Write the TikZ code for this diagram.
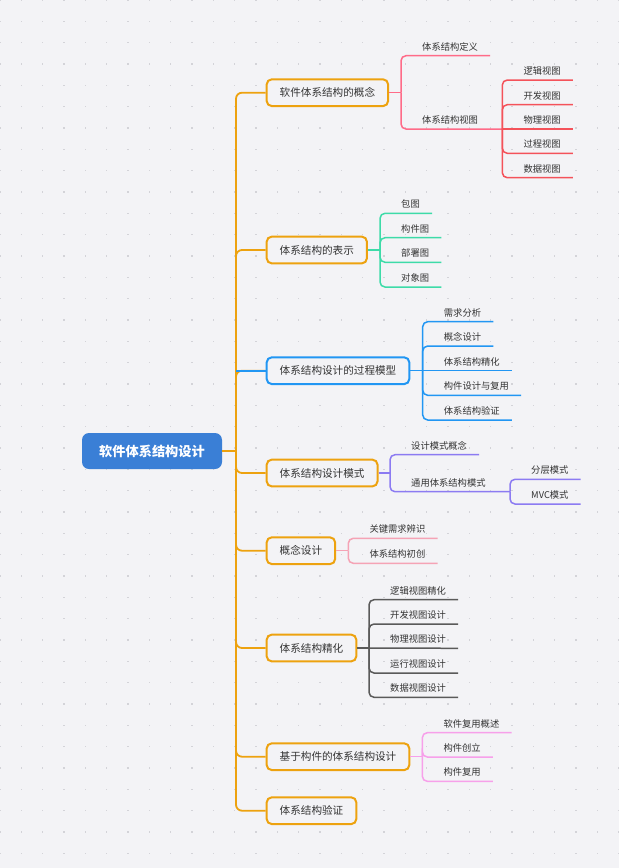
\documentclass[tikz,border=0pt]{standalone}
\usepackage{fontspec}
\setmainfont{Noto Sans CJK SC}
\usetikzlibrary{positioning}

\definecolor{bgc}{HTML}{F3F3F6}
\definecolor{dotc}{HTML}{D3D3D8}
\definecolor{textc}{HTML}{333333}
\definecolor{orangec}{HTML}{EDA20F}
\definecolor{rootc}{HTML}{3A7FD6}
\definecolor{pinkc}{HTML}{FF6B88}
\definecolor{redc}{HTML}{F4525A}
\definecolor{greenc}{HTML}{3DDBA8}
\definecolor{bluec}{HTML}{2196F3}
\definecolor{purplec}{HTML}{8C7BF2}
\definecolor{rosec}{HTML}{F5A3B5}
\definecolor{grayc}{HTML}{5A5A5A}
\definecolor{magentac}{HTML}{F7A0EA}

\tikzset{
  rootbox/.style={fill=rootc, rounded corners=7pt, text=white, minimum width=140pt,
    minimum height=36pt, font=\fontsize{13.2}{15}\selectfont\bfseries},
  topic/.style={draw=orangec, line width=2pt, rounded corners=5pt, fill=bgc,
    inner xsep=13pt, minimum height=26.7pt, anchor=west, text=textc,
    font=\fontsize{10.6}{12}\selectfont},
  leaf/.style={inner xsep=12pt, inner ysep=4.5pt, anchor=south west, text=textc,
    font=\fontsize{9.3}{11}\selectfont},
  trunk/.style={draw=orangec, line width=1.8pt, rounded corners=6pt},
  twig/.style={line width=1.5pt, rounded corners=5pt},
}

\begin{document}
\begin{tikzpicture}[x=1pt,y=-1pt]
\fill[bgc] (0,0) rectangle (619,868);
\useasboundingbox (0,0) rectangle (619,868);
% dotted paper
\foreach \i in {0,...,29}
  \foreach \j in {0,...,40}
    \fill[dotc] (\i*21.33-0.65,\j*21.33-0.65) rectangle ++(1.3,1.3);

% root and main topics
\node[rootbox] (root) at (152,451) {软件体系结构设计};
\coordinate (hub) at (236,451);

\node[topic] (t1) at (265.7,92.7) {软件体系结构的概念};
\node[topic] (t2) at (265.7,250) {体系结构的表示};
\node[topic, draw=bluec] (t3) at (265.7,370.7) {体系结构设计的过程模型};
\node[topic] (t4) at (265.7,473) {体系结构设计模式};
\node[topic] (t5) at (265.7,550.7) {概念设计};
\node[topic] (t6) at (265.7,648) {体系结构精化};
\node[topic] (t7) at (265.7,756.7) {基于构件的体系结构设计};
\node[topic] (t8) at (265.7,810.7) {体系结构验证};

\draw[trunk] (root) -- (hub);
\foreach \t in {t1,t2,t4,t5,t6,t7,t8}
  \draw[trunk] (hub) |- (\t);
\draw[trunk] (hub) |- (t3.west);
\draw[line width=1.8pt, bluec] (t3.west) -- ++(-29.7,0);

% 1: concept
\coordinate (b1) at (401,92.7);
\node[leaf] (a11) at (410,55.7) {体系结构定义};
\node[leaf] (a12) at (410,129) {体系结构视图};
\coordinate (v1) at (502.3,129);
\node[leaf] (a13) at (511.3,80) {逻辑视图};
\node[leaf] (a14) at (511.3,104.7) {开发视图};
\node[leaf] (a15) at (511.3,129) {物理视图};
\node[leaf] (a16) at (511.3,153.3) {过程视图};
\node[leaf] (a17) at (511.3,177.7) {数据视图};
\draw[twig, pinkc] (t1) -- (b1);
\draw[twig, pinkc] (b1) |- (a11.south east);
\draw[twig, pinkc] (b1) |- (v1);
\foreach \n in {a13,a14,a16,a17}
  \draw[twig, redc] (v1) |- (\n.south east);
\draw[twig, redc] (v1) -- (a15.south east);

% 2: representation
\coordinate (b2) at (380,250);
\node[leaf] (a21) at (389,213.3) {包图};
\node[leaf] (a22) at (389,237.7) {构件图};
\node[leaf] (a23) at (389,262.3) {部署图};
\node[leaf] (a24) at (389,287) {对象图};
\draw[twig, greenc] (t2) -- (b2);
\foreach \n in {a21,a22,a23,a24}
  \draw[twig, greenc] (b2) |- (\n.south east);

% 3: process model
\coordinate (b3) at (422.7,370.7);
\node[leaf] (a31) at (431.7,321.7) {需求分析};
\node[leaf] (a32) at (431.7,346) {概念设计};
\node[leaf] (a33) at (431.7,370.7) {体系结构精化};
\node[leaf] (a34) at (431.7,395.3) {构件设计与复用};
\node[leaf] (a35) at (431.7,420) {体系结构验证};
\draw[twig, bluec] (t3) -- (b3);
\foreach \n in {a31,a32,a34,a35}
  \draw[twig, bluec] (b3) |- (\n.south east);
\draw[twig, bluec] (b3) -- (a33.south east);

% 4: design patterns
\coordinate (b4) at (390,473);
\node[leaf] (a41) at (399,454.7) {设计模式概念};
\node[leaf] (a42) at (399,491.7) {通用体系结构模式};
\coordinate (v4) at (510,491.7);
\node[leaf] (a43) at (519,479.3) {分层模式};
\node[leaf] (a44) at (519,504) {MVC模式};
\draw[twig, purplec] (t4) -- (b4);
\draw[twig, purplec] (b4) |- (a41.south east);
\draw[twig, purplec] (b4) |- (v4);
\foreach \n in {a43,a44}
  \draw[twig, purplec] (v4) |- (\n.south east);

% 5: conceptual design
\coordinate (b5) at (348.3,550.7);
\node[leaf] (a51) at (357.3,538.3) {关键需求辨识};
\node[leaf] (a52) at (357.3,563.3) {体系结构初创};
\draw[twig, rosec] (t5) -- (b5);
\foreach \n in {a51,a52}
  \draw[twig, rosec] (b5) |- (\n.south east);

% 6: refinement
\coordinate (b6) at (369,648);
\node[leaf] (a61) at (378,599.7) {逻辑视图精化};
\node[leaf] (a62) at (378,624) {开发视图设计};
\node[leaf] (a63) at (378,648.3) {物理视图设计};
\node[leaf] (a64) at (378,673) {运行视图设计};
\node[leaf] (a65) at (378,697.3) {数据视图设计};
\draw[twig, grayc] (t6) -- (b6);
\foreach \n in {a61,a62,a64,a65}
  \draw[twig, grayc] (b6) |- (\n.south east);
\draw[twig, grayc] (b6) -- (a63.south east);

% 7: component based design
\coordinate (b7) at (422.3,756.7);
\node[leaf] (a71) at (431.3,732.7) {软件复用概述};
\node[leaf] (a72) at (431.3,757) {构件创立};
\node[leaf] (a73) at (431.3,781.3) {构件复用};
\draw[twig, magentac] (t7) -- (b7);
\foreach \n in {a71,a72,a73}
  \draw[twig, magentac] (b7) |- (\n.south east);
\end{tikzpicture}
\end{document}
